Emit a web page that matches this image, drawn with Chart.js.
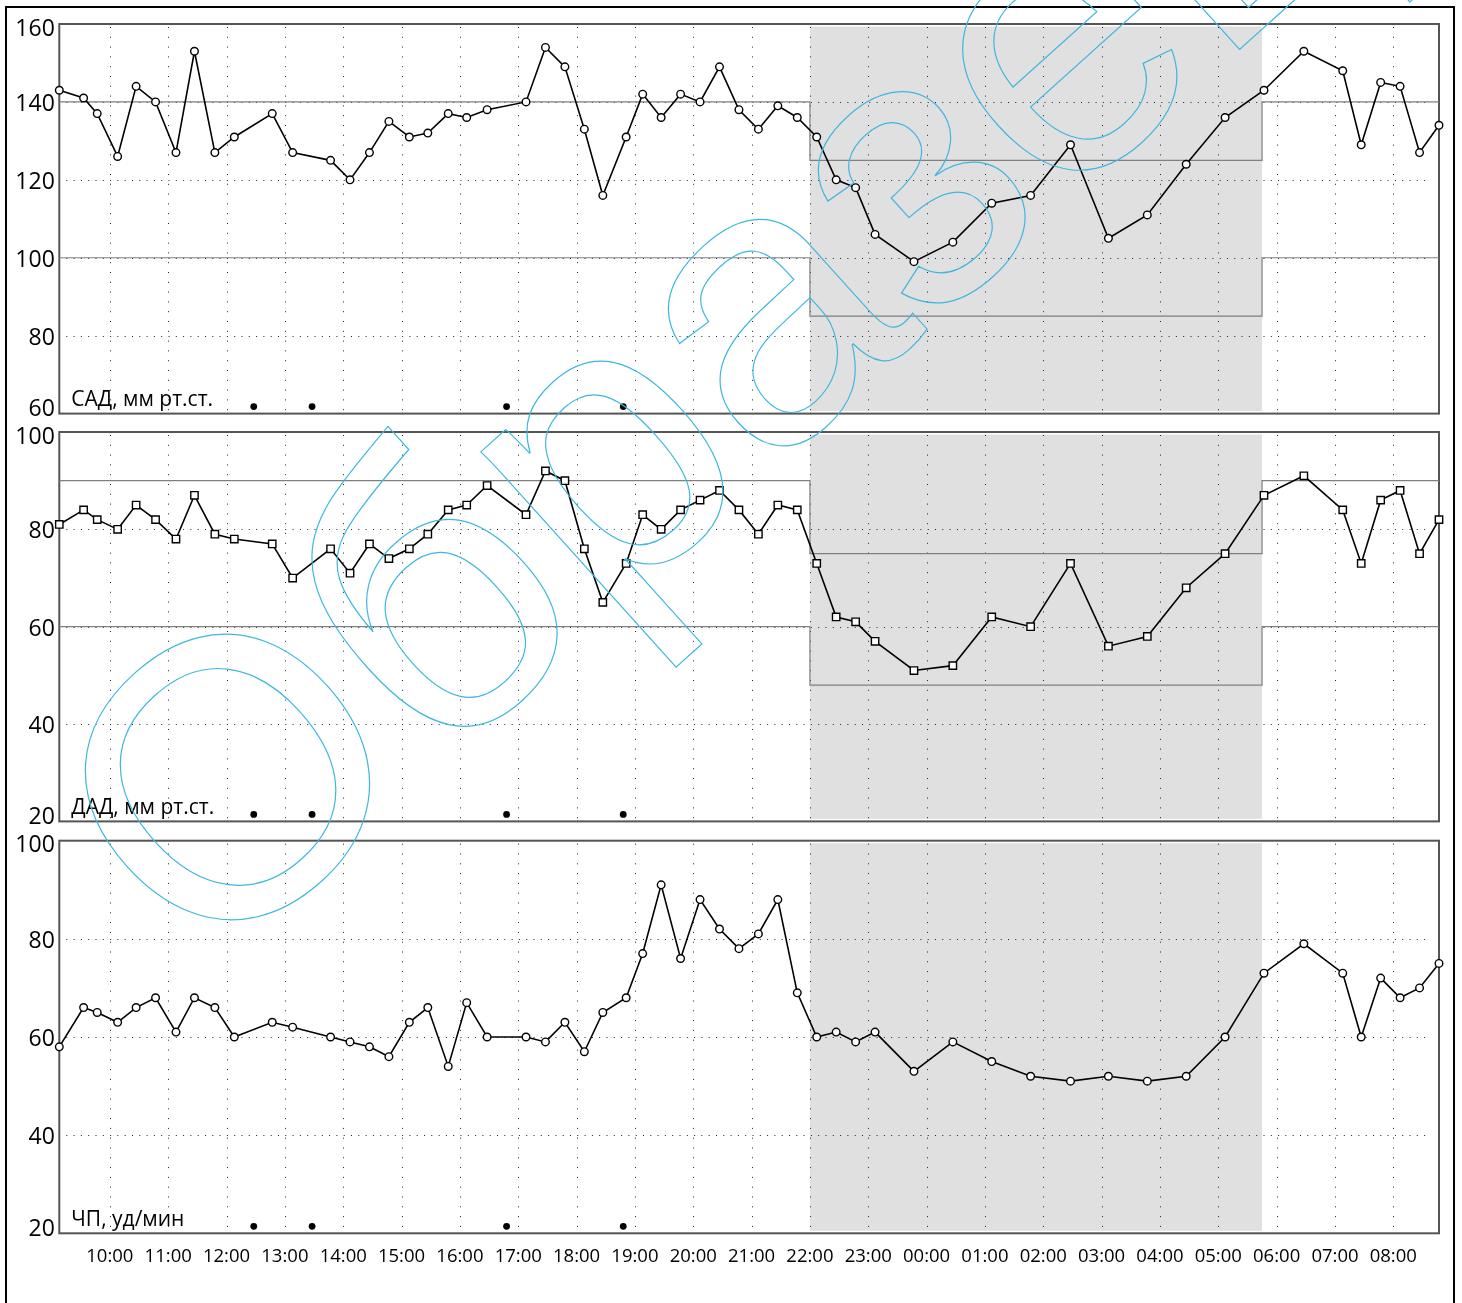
<!DOCTYPE html>
<html lang="ru">
<head>
<meta charset="utf-8">
<title>СМАД</title>
<script src="https://cdn.jsdelivr.net/npm/chart.js@4.4.1/dist/chart.umd.min.js"></script>
<style>
  html, body { margin: 0; padding: 0; background: #fff; }
  body { width: 1462px; height: 1303px; position: relative; overflow: hidden; font-family: "Open Sans", sans-serif; }
  .frame { position: absolute; left: 5px; top: 6px; width: 1446px; height: 1400px; border: 2px solid #000; border-bottom: none; }
  .panel { position: absolute; left: 0; width: 1462px; }
  #p1 { top: 8px; height: 411px; }
  #p2 { top: 419px; height: 409px; }
  #p3 { top: 828px; height: 475px; }
  svg.mark { position: absolute; left: 0; top: 0; pointer-events: none; }
</style>
</head>
<body>
<div class="frame"></div>
<div class="panel" id="p1"><canvas id="c1"></canvas></div>
<div class="panel" id="p2"><canvas id="c2"></canvas></div>
<div class="panel" id="p3"><canvas id="c3"></canvas></div>
<svg class="mark" width="1462" height="1303">
  <text x="205" y="981" transform="rotate(-42 205 981)" font-family="Liberation Sans, Arial, sans-serif" font-size="395" fill="none" stroke="#3fb6e0" stroke-width="1.2">Образец</text>
</svg>
<script>
// measurement times (after midnight = next day)
const times = ['09:08','09:33','09:47','10:08','10:27','10:47','11:08','11:27','11:48','12:08',
  '12:47','13:08','13:47','14:07','14:27','14:47','15:08','15:27','15:48','16:07',
  '16:28','17:08','17:28','17:48','18:08','18:27','18:51','19:08','19:27','19:47',
  '20:07','20:27','20:47','21:07','21:27','21:47','22:07','22:27','22:47','23:07',
  '23:47','00:27','01:07','01:47','02:28','03:07','03:47','04:27','05:07','05:47',
  '06:28','07:08','07:27','07:47','08:07','08:27','08:47'];

const sbp = [143,141,137,126,144,140,127,153,127,131, 137,127,125,120,127,135,131,132,137,136,
  138,140,154,149,133,116,131,142,136,142, 140,149,138,133,139,136,131,120,118,106,
  99,104,114,116,129,105,111,124,136,143, 153,148,129,145,144,127,134];
const dbp = [81,84,82,80,85,82,78,87,79,78, 77,70,76,71,77,74,76,79,84,85,
  89,83,92,90,76,65,73,83,80,84, 86,88,84,79,85,84,73,62,61,57,
  51,52,62,60,73,56,58,68,75,87, 91,84,73,86,88,75,82];
const hr = [58,66,65,63,66,68,61,68,66,60, 63,62,60,59,58,56,63,66,54,67,
  60,60,59,63,57,65,68,77,91,76, 88,82,78,81,88,69,60,61,59,61,
  53,59,55,52,51,52,51,52,60,73, 79,73,60,72,68,70,75];

const events = ['12:28','13:28','16:48','18:48'];
const nightPeriod = ['22:00','05:45'];

const tickLabels = ['10:00','11:00','12:00','13:00','14:00','15:00','16:00','17:00','18:00','19:00','20:00',
  '21:00','22:00','23:00','00:00','01:00','02:00','03:00','04:00','05:00','06:00','07:00','08:00'];
const sbpTicks = [60,80,100,120,140,160];
const dbpTicks = [20,40,60,80,100];
const hrTicks = [20,40,60,80,100];

const sbpNorm = [100,140], sbpNightNorm = [85,125];
const dbpNorm = [60,90], dbpNightNorm = [48,75];

function toH(s) {
  const [h, m] = s.split(':').map(Number);
  return (h < 9 ? h + 24 : h) + m / 60;
}

const xMin = toH(times[0]), xMax = toH(times[times.length - 1]);
const nightFrom = toH(nightPeriod[0]), nightTo = toH(nightPeriod[1]);
const hourValues = tickLabels.map(toH);

function normLine(dayVal, nightVal) {
  return [{x: xMin, y: dayVal}, {x: nightFrom, y: dayVal}, {x: nightFrom, y: nightVal},
    {x: nightTo, y: nightVal}, {x: nightTo, y: dayVal}, {x: xMax, y: dayVal}];
}

function makePanel(id, values, yTicks, norms, title, pointStyle, pad, showX) {
  const decor = {
    id: 'decor',
    beforeDatasetsDraw(chart) {
      const {ctx, chartArea: a, scales: {x, y}} = chart;
      ctx.save();
      // ночной период
      const n0 = x.getPixelForValue(nightFrom), n1 = x.getPixelForValue(nightTo);
      ctx.fillStyle = '#e0e0e0';
      ctx.fillRect(n0, a.top + 2.5, n1 - n0, a.height - 5);
      // dotted grid
      ctx.strokeStyle = '#222';
      ctx.lineWidth = 1;
      ctx.setLineDash([1, 8.8]);
      hourValues.forEach(v => {
        const px = Math.round(x.getPixelForValue(v)) + 0.5;
        ctx.beginPath(); ctx.moveTo(px, a.top + 3); ctx.lineTo(px, a.bottom - 3); ctx.stroke();
      });
      ctx.setLineDash([1, 6.3]);
      yTicks.slice(1, -1).forEach(v => {
        const py = Math.round(y.getPixelForValue(v)) + 0.5;
        ctx.beginPath(); ctx.moveTo(a.left + 7, py); ctx.lineTo(a.right - 11, py); ctx.stroke();
      });
      ctx.setLineDash([]);
      ctx.strokeStyle = '#555';
      ctx.lineWidth = 2;
      ctx.strokeRect(a.left, a.top, a.width, a.height);
      // events
      ctx.fillStyle = '#000';
      events.forEach(t => {
        ctx.beginPath();
        ctx.arc(x.getPixelForValue(toH(t)), a.bottom - 7, 3.4, 0, Math.PI * 2);
        ctx.fill();
      });
      ctx.font = '21px "Open Sans"';
      ctx.textAlign = 'left';
      ctx.textBaseline = 'alphabetic';
      ctx.fillText(title, a.left + 12, a.bottom - 7.5);
      ctx.restore();
    },
    afterDraw(chart) {
      const {ctx, chartArea: a, scales: {y}} = chart;
      ctx.save();
      ctx.font = '23px "Open Sans"';
      ctx.fillStyle = '#000';
      ctx.textAlign = 'right';
      ctx.textBaseline = 'middle';
      yTicks.forEach(v => {
        let py = y.getPixelForValue(v) + 2.5;
        py = Math.min(Math.max(py, a.top + 5), a.bottom - 4);
        ctx.fillText(String(v), a.left - 4.5, py);
      });
      ctx.restore();
    }
  };

  const normStyle = {borderColor: '#7f7f7f', borderWidth: 1.2, pointRadius: 0, fill: false, clip: false};
  const datasets = [{
    data: times.map((t, i) => ({x: toH(t), y: values[i]})),
    borderColor: '#000',
    borderWidth: 1.6,
    pointStyle: pointStyle,
    pointRadius: pointStyle === 'rect' ? 5.2 : 3.8,
    pointBackgroundColor: '#fff',
    pointBorderColor: '#000',
    pointBorderWidth: 1.4,
    tension: 0,
    clip: false
  }];
  if (norms) {
    datasets.push(Object.assign({data: normLine(norms[0][1], norms[1][1])}, normStyle));
    datasets.push(Object.assign({data: normLine(norms[0][0], norms[1][0])}, normStyle));
  }

  const xScale = {
    type: 'linear',
    min: xMin,
    max: xMax,
    display: showX,
    grid: {display: false, drawTicks: false},
    border: {display: false},
    afterBuildTicks: s => { s.ticks = hourValues.map(v => ({value: v})); },
    ticks: {
      autoSkip: false,
      maxRotation: 0,
      padding: 12,
      color: '#000',
      font: {family: 'Open Sans', size: 18.5},
      callback: v => tickLabels[hourValues.indexOf(v)]
    }
  };
  if (showX) xScale.afterFit = s => { s.height = 40; };

  return new Chart(document.getElementById(id), {
    type: 'line',
    data: {datasets},
    options: {
      responsive: true,
      maintainAspectRatio: false,
      animation: false,
      events: [],
      layout: {padding: {left: 59.3, right: 23, top: pad[0], bottom: pad[1]}},
      plugins: {legend: {display: false}, tooltip: {enabled: false}},
      scales: {
        x: xScale,
        y: {min: yTicks[0], max: yTicks[yTicks.length - 1], display: false}
      }
    },
    plugins: [decor]
  });
}

function build() {
  makePanel('c1', sbp, sbpTicks, [sbpNorm, sbpNightNorm], 'САД, мм рт.ст.', 'circle', [16, 2.3], false);
  makePanel('c2', dbp, dbpTicks, [dbpNorm, dbpNightNorm], 'ДАД, мм рт.ст.', 'rect', [13, 3], false);
  makePanel('c3', hr, hrTicks, null, 'ЧП, уд/мин', 'circle', [12.7, 29.7], true);
}

Promise.all([document.fonts.load('23px "Open Sans"'), document.fonts.load('395px "Liberation Sans"')])
  .catch(() => null)
  .then(build);
</script>
</body>
</html>
